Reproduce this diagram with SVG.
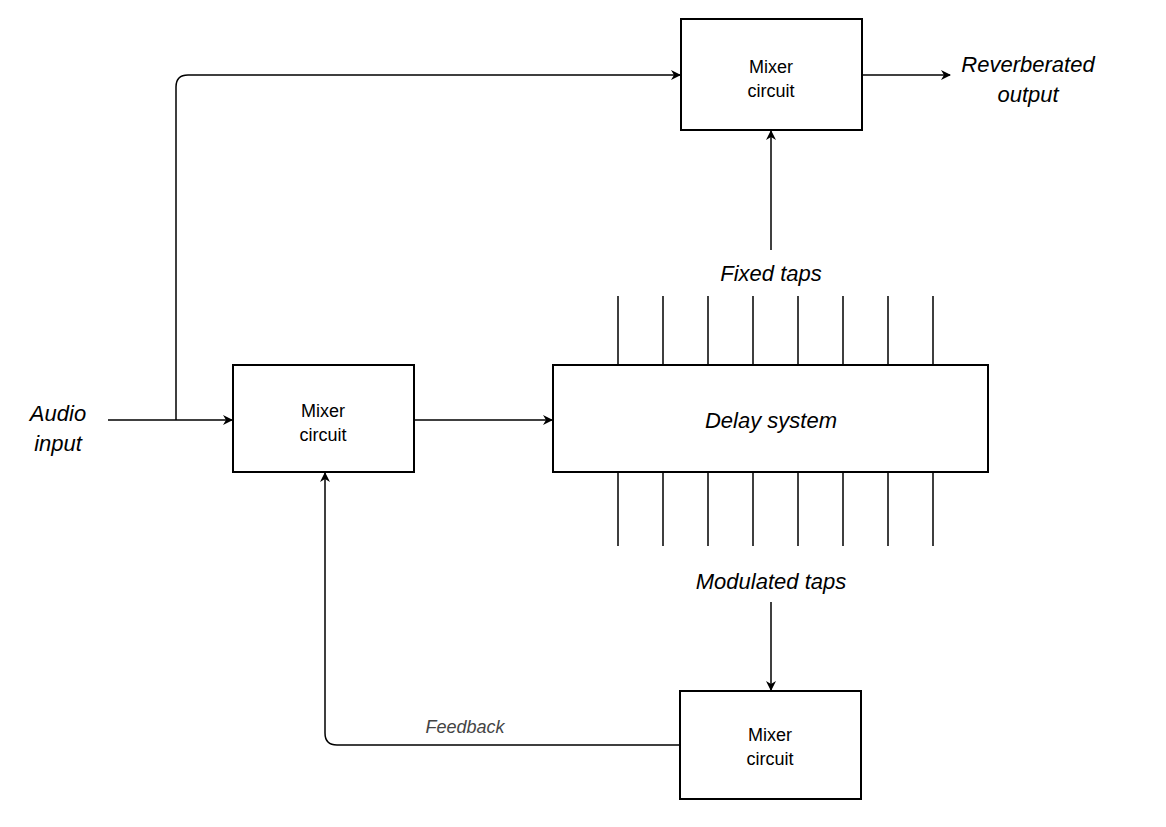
<svg xmlns="http://www.w3.org/2000/svg" width="1166" height="827" viewBox="0 0 1166 827">
<style>
.box{fill:#fff;stroke:#000;stroke-width:2}
.t{font-family:"Liberation Sans",Arial,sans-serif;font-size:18px;text-anchor:middle;fill:#000}
.i{font-family:"Liberation Sans",Arial,sans-serif;font-size:22px;font-style:italic;text-anchor:middle;fill:#000}
.ln{fill:none;stroke:#000;stroke-width:1.5}
</style>
<defs><marker id="a" viewBox="0 0 10 10" refX="9" refY="5" markerWidth="10" markerHeight="10" markerUnits="userSpaceOnUse" orient="auto"><path d="M0,0 L10,5 L0,10 L3,5 Z" fill="#000"/></marker></defs>
<rect width="1166" height="827" fill="#fff"/>
<g id="connectors">
<path class="ln" d="M108,420 H232" marker-end="url(#a)"/>
<path class="ln" d="M176,420 V87 Q176,75 188,75 H680" marker-end="url(#a)"/>
<path class="ln" d="M862,75 H950" marker-end="url(#a)"/>
<path class="ln" d="M771,250 V131" marker-end="url(#a)"/>
<path class="ln" d="M414,420 H552" marker-end="url(#a)"/>
<path class="ln" d="M771,602 V690" marker-end="url(#a)"/>
<path class="ln" d="M680,745 H337 Q325,745 325,733 V473" marker-end="url(#a)"/>
<g stroke="#000" stroke-width="1.5">
<path d="M618,296V365M663,296V365M708,296V365M753,296V365M798,296V365M843,296V365M888,296V365M933,296V365"/>
<path d="M618,472V546M663,472V546M708,472V546M753,472V546M798,472V546M843,472V546M888,472V546M933,472V546"/>
</g>
<text x="465" y="733" class="i" style="font-size:18px;fill:#444">Feedback</text>
</g>
<g id="mixerTop"><rect class="box" x="681" y="19" width="181" height="111"/><text class="t" x="771" y="73">Mixer</text><text class="t" x="771" y="97">circuit</text></g>
<g id="mixerLeft"><rect class="box" x="233" y="365" width="181" height="107"/><text class="t" x="323" y="417">Mixer</text><text class="t" x="323" y="441">circuit</text></g>
<g id="delay"><rect class="box" x="553" y="365" width="435" height="107"/><text class="i" x="771" y="428">Delay system</text></g>
<g id="mixerBottom"><rect class="box" x="680" y="691" width="181" height="108"/><text class="t" x="770" y="741">Mixer</text><text class="t" x="770" y="765">circuit</text></g>
<g id="labels">
<text class="i" x="58" y="421">Audio</text><text class="i" x="58" y="451">input</text>
<text class="i" x="1028" y="72">Reverberated</text><text class="i" x="1028" y="102">output</text>
<text class="i" x="771" y="281">Fixed taps</text>
<text class="i" x="771" y="589">Modulated taps</text>
</g>
</svg>
